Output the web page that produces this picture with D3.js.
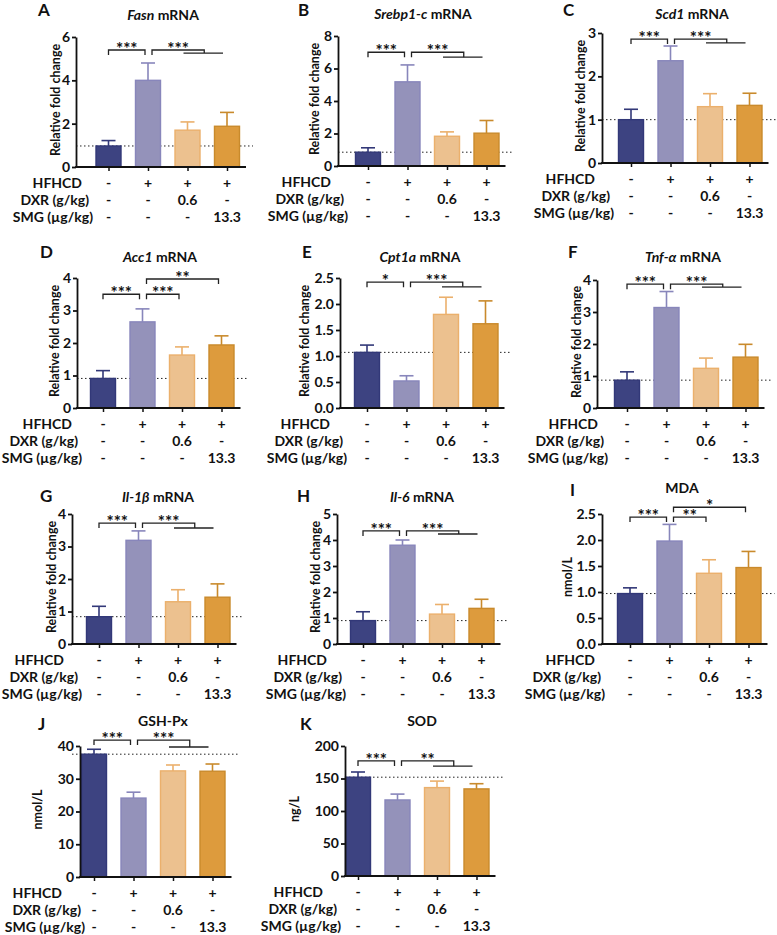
<!DOCTYPE html>
<html>
<head>
<meta charset="utf-8">
<script src="https://cdn.jsdelivr.net/npm/d3@7"></script>
<style>
body { margin: 0; background: #fff; }
text { font-family: Lato, "Open Sans", sans-serif; font-weight: bold; fill: #111; }
</style>
</head>
<body>
<svg id="fig" width="777" height="935"></svg>
<script>
// treatment rows under each x axis
const rowNames = ["HFHCD", "DXR (g/kg)", "SMG (µg/kg)"]
const rowHFHCD = ["-", "+", "+", "+"]
const rowDXR = ["-", "-", "0.6", "-"]
const rowSMG = ["-", "-", "-", "13.3"]

const barFill = ["#3d4381", "#9492ba", "#ecc18f", "#dd9b3d"]
const barEdge = ["#323878", "#8886bb", "#ebb06c", "#c98a2c"]

// bar means and upper error bars
const fasnMean = [0.97, 4.0, 1.7, 1.88]
const fasnErr = [0.25, 0.8, 0.38, 0.64]
const srebpMean = [0.85, 5.18, 1.83, 2.02]
const srebpErr = [0.27, 1.04, 0.27, 0.78]
const scdMean = [1.0, 2.36, 1.3, 1.33]
const scdErr = [0.24, 0.34, 0.3, 0.28]
const accMean = [0.91, 2.65, 1.63, 1.94]
const accErr = [0.24, 0.4, 0.25, 0.28]
const cptMean = [1.07, 0.52, 1.8, 1.62]
const cptErr = [0.14, 0.1, 0.33, 0.44]
const tnfMean = [0.87, 3.14, 1.24, 1.59]
const tnfErr = [0.26, 0.5, 0.32, 0.4]
const il1Mean = [0.84, 3.19, 1.3, 1.44]
const il1Err = [0.32, 0.29, 0.37, 0.41]
const il6Mean = [0.9, 3.8, 1.15, 1.37]
const il6Err = [0.34, 0.2, 0.37, 0.35]
const mdaMean = [0.97, 1.98, 1.36, 1.47]
const mdaErr = [0.11, 0.32, 0.26, 0.31]
const gshMean = [37.5, 24.1, 32.4, 32.3]
const gshErr = [1.5, 1.8, 1.8, 2.2]
const sodMean = [152, 117, 136, 134]
const sodErr = [8, 9, 10, 8]

// y axis ticks
const ticksFold4 = [0, 1, 2, 3, 4]
const ticksFasn = [0, 2, 4, 6]
const ticksSrebp = [0, 2, 4, 6, 8]
const ticksScd = [0, 1, 2, 3]
const ticksHalf = [0, 0.5, 1.0, 1.5, 2.0, 2.5]
const ticksIl6 = [0, 1, 2, 3, 4, 5]
const ticksGsh = [0, 10, 20, 30, 40]
const ticksSod = [0, 50, 100, 150, 200]

const svg = d3.select("#fig")

// s: simple bracket a-b ; c: bar 2 against bars 3 and 4 together
const panels = [
  {L: "A", gene: "Fasn", rest: " mRNA", ylab: "Relative fold change", mean: fasnMean, err: fasnErr, ticks: ticksFasn, fmt: d3.format("d"),
   ax: 76, b1: 108.5, top: 37, bot: 167, lx: 38, ly: 10, tx: 163, ty: 15, ylx: 56, rows: [82, 89],
   sig: [{k: "s", a: 0, b: 1, y: 5.4, t: "***"}, {k: "c", y: 5.4, sub: 5.26, t: "***"}]},
  {L: "B", gene: "Srebp1-c", rest: " mRNA", ylab: "Relative fold change", mean: srebpMean, err: srebpErr, ticks: ticksSrebp, fmt: d3.format("d"),
   ax: 338, b1: 368, top: 36, bot: 166, lx: 298, ly: 10, tx: 423, ty: 14, ylx: 315, rows: [331, 344],
   sig: [{k: "s", a: 0, b: 1, y: 7.0, t: "***"}, {k: "c", y: 7.0, sub: 6.7, t: "***"}]},
  {L: "C", gene: "Scd1", rest: " mRNA", ylab: "Relative fold change", mean: scdMean, err: scdErr, ticks: ticksScd, fmt: d3.format("d"),
   ax: 602, b1: 631, top: 33, bot: 163, lx: 563, ly: 10, tx: 692, ty: 14, ylx: 581, rows: [595, 610],
   sig: [{k: "s", a: 0, b: 1, y: 2.86, t: "***"}, {k: "c", y: 2.86, sub: 2.77, t: "***"}]},
  {L: "D", gene: "Acc1", rest: " mRNA", ylab: "Relative fold change", mean: accMean, err: accErr, ticks: ticksFold4, fmt: d3.format("d"),
   ax: 77, b1: 103, top: 278, bot: 408, lx: 40, ly: 252, tx: 160, ty: 257, ylx: 55, rows: [72, 78],
   sig: [{k: "s", a: 0, b: 1, y: 3.5, t: "***"}, {k: "s", a: 1, b: 2, y: 3.5, t: "***"}, {k: "s", a: 1, b: 3, y: 3.97, t: "**"}]},
  {L: "E", gene: "Cpt1a", rest: " mRNA", ylab: "Relative fold change", mean: cptMean, err: cptErr, ticks: ticksHalf, fmt: d3.format(".1f"),
   ax: 340, b1: 367, top: 278, bot: 408, lx: 302, ly: 252, tx: 420, ty: 257, ylx: 305, rows: [330, 343],
   sig: [{k: "s", a: 0, b: 1, y: 2.42, t: "*"}, {k: "c", y: 2.42, sub: 2.33, t: "***"}]},
  {L: "F", gene: "Tnf-α", rest: " mRNA", ylab: "Relative fold change", mean: tnfMean, err: tnfErr, ticks: ticksFold4, fmt: d3.format("d"),
   ax: 597, b1: 627, top: 280, bot: 408, lx: 568, ly: 252, tx: 683, ty: 257, ylx: 577, rows: [598, 604],
   sig: [{k: "s", a: 0, b: 1, y: 3.87, t: "***"}, {k: "c", y: 3.87, sub: 3.78, t: "***"}]},
  {L: "G", gene: "Il-1β", rest: " mRNA", ylab: "Relative fold change", mean: il1Mean, err: il1Err, ticks: ticksFold4, fmt: d3.format("d"),
   ax: 72, b1: 99, top: 514, bot: 644, lx: 40, ly: 496, tx: 158, ty: 497, ylx: 52, rows: [64, 78],
   sig: [{k: "s", a: 0, b: 1, y: 3.72, t: "***"}, {k: "c", y: 3.72, sub: 3.57, t: "***"}]},
  {L: "H", gene: "Il-6", rest: " mRNA", ylab: "Relative fold change", mean: il6Mean, err: il6Err, ticks: ticksIl6, fmt: d3.format("d"),
   ax: 337, b1: 363, top: 514, bot: 644, lx: 297, ly: 496, tx: 422, ty: 497, ylx: 316, rows: [327, 342],
   sig: [{k: "s", a: 0, b: 1, y: 4.35, t: "***"}, {k: "c", y: 4.35, sub: 4.23, t: "***"}]},
  {L: "I", gene: "", rest: "MDA", ylab: "nmol/L", mean: mdaMean, err: mdaErr, ticks: ticksHalf, fmt: d3.format(".1f"),
   ax: 602, b1: 630, top: 514, bot: 644, lx: 570, ly: 490, tx: 682, ty: 488, ylx: 568, rows: [595, 601],
   sig: [{k: "s", a: 0, b: 1, y: 2.44, t: "***"}, {k: "s", a: 1, b: 2, y: 2.44, t: "**"}, {k: "s", a: 1, b: 3, y: 2.63, t: "*"}]},
  {L: "J", gene: "", rest: "GSH-Px", ylab: "nmol/L", mean: gshMean, err: gshErr, ticks: ticksGsh, fmt: d3.format("d"),
   ax: 80, b1: 94, top: 746, bot: 877, lx: 38, ly: 724, tx: 163, ty: 721, ylx: 38, rows: [62, 81],
   sig: [{k: "s", a: 0, b: 1, y: 41.8, t: "***"}, {k: "c", y: 41.8, sub: 39.7, t: "***"}]},
  {L: "K", gene: "", rest: "SOD", ylab: "ng/L", mean: sodMean, err: sodErr, ticks: ticksSod, fmt: d3.format("d"),
   ax: 345, b1: 358, top: 746, bot: 876, lx: 300, ly: 724, tx: 422, ty: 721, ylx: 295, rows: [323, 337],
   sig: [{k: "s", a: 0, b: 1, y: 177, t: "***"}, {k: "c", y: 177, sub: 169, t: "**"}]}
]

panels.forEach(drawPanel)

function drawPanel(p) {
  const g = svg.append("g")
  const maxV = p.ticks[p.ticks.length - 1]
  const y = d3.scaleLinear().domain([0, maxV]).range([p.bot, p.top])
  const x = d3.scalePoint().domain([0, 1, 2, 3]).range([p.b1, p.b1 + 3 * 39.5])
  const xEnd = x(3) + 19
  const bw = 25

  // panel letter and title
  g.append("text").attr("x", p.lx).attr("y", p.ly).attr("dy", "0.35em")
    .attr("font-size", "17px").text(p.L)
  const t = g.append("text").attr("x", p.tx).attr("y", p.ty).attr("dy", "0.35em")
    .attr("text-anchor", "middle").attr("font-size", "14px")
  if (p.gene) t.append("tspan").attr("font-style", "italic").text(p.gene)
  t.append("tspan").text(p.rest)

  // y label
  g.append("text")
    .attr("transform", `translate(${p.ylx},${(p.top + p.bot) / 2 - 2}) rotate(-90)`)
    .attr("dy", "0.35em").attr("text-anchor", "middle").attr("font-size", "12.5px")
    .text(p.ylab)

  // dotted reference at control mean
  g.append("line")
    .attr("x1", p.L == "J" ? p.ax - 8 : p.ax).attr("x2", xEnd + 7)
    .attr("y1", y(p.mean[0])).attr("y2", y(p.mean[0]))
    .attr("stroke", "#222").attr("stroke-width", 1).attr("stroke-dasharray", "1.5,2.5")

  // bars + error bars
  const bars = g.selectAll(".bar").data(p.mean.map((m, i) => ({m: m, e: p.err[i], i: i})))
    .enter().append("g")
  bars.append("line")
    .attr("x1", d => x(d.i)).attr("x2", d => x(d.i))
    .attr("y1", d => y(d.m)).attr("y2", d => y(d.m + d.e))
    .attr("stroke", d => barEdge[d.i]).attr("stroke-width", 1.6)
  bars.append("line")
    .attr("x1", d => x(d.i) - 7).attr("x2", d => x(d.i) + 7)
    .attr("y1", d => y(d.m + d.e)).attr("y2", d => y(d.m + d.e))
    .attr("stroke", d => barEdge[d.i]).attr("stroke-width", 1.6)
  bars.append("rect")
    .attr("x", d => x(d.i) - bw / 2).attr("width", bw)
    .attr("y", d => y(d.m)).attr("height", d => p.bot - y(d.m))
    .attr("fill", d => barFill[d.i]).attr("stroke", d => barEdge[d.i]).attr("stroke-width", 1.4)

  // axes
  const yAxis = g.append("g").attr("transform", `translate(${p.ax},0)`)
    .call(d3.axisLeft(y).tickValues(p.ticks).tickFormat(p.fmt).tickSize(4).tickSizeOuter(0).tickPadding(2))
  yAxis.select(".domain").attr("stroke-width", 1.8).attr("stroke", "#111")
  yAxis.selectAll(".tick line").attr("stroke-width", 1.8).attr("stroke", "#111")
  yAxis.selectAll(".tick text").attr("font-size", "14px").attr("font-family", null)

  const xAxis = g.append("g").attr("transform", `translate(0,${p.bot})`)
    .call(d3.axisBottom(x).tickSize(4).tickFormat(""))
  xAxis.select(".domain").remove()
  xAxis.selectAll(".tick line").attr("stroke-width", 1.5).attr("stroke", "#111")
  g.append("line").attr("x1", p.ax - 0.9).attr("x2", xEnd)
    .attr("y1", p.bot).attr("y2", p.bot).attr("stroke", "#111").attr("stroke-width", 1.8)

  // treatment rows
  const rowVals = [rowHFHCD, rowDXR, rowSMG]
  const rowDy = [16, 33, 50]
  rowVals.forEach((vals, r) => {
    const endX = r == 0 ? p.rows[0] : p.rows[1] + (r == 2 ? 4 : 0)
    g.append("text").attr("x", endX).attr("y", p.bot + rowDy[r]).attr("dy", "0.35em")
      .attr("text-anchor", "end").attr("font-size", "14px").text(rowNames[r])
    g.selectAll(".r" + r).data(vals).enter().append("text")
      .attr("x", (d, i) => x(i)).attr("y", p.bot + rowDy[r]).attr("dy", "0.35em")
      .attr("text-anchor", "middle").attr("font-size", "14px").text(d => d)
  })

  // significance brackets
  p.sig.forEach(s => {
    const yy = y(s.y)
    let x1, x2
    if (s.k == "s") {
      x1 = x(s.a) + (s.a > 0 ? 4 : 0)
      x2 = x(s.b) - 3
      g.append("path").attr("d", `M${x1},${yy + 5}V${yy}H${x2}V${yy + 5}`)
        .attr("fill", "none").attr("stroke", "#222").attr("stroke-width", 1.3)
    } else {
      const ys = y(s.sub)
      x1 = x(1) + 4
      x2 = (x(2) + x(3)) / 2 - 3
      g.append("path").attr("d", `M${x1},${yy + 5}V${yy}H${x2}V${ys}`)
        .attr("fill", "none").attr("stroke", "#222").attr("stroke-width", 1.3)
      g.append("line").attr("x1", x(2) - 4).attr("x2", x(3) - 4).attr("y1", ys).attr("y2", ys)
        .attr("stroke", "#222").attr("stroke-width", 1.3)
    }
    g.append("text").attr("x", (x1 + x2) / 2).attr("y", yy + 5)
      .attr("text-anchor", "middle").attr("font-size", "17px").attr("font-weight", "normal")
      .text(s.t)
  })
}
</script>
</body>
</html>
